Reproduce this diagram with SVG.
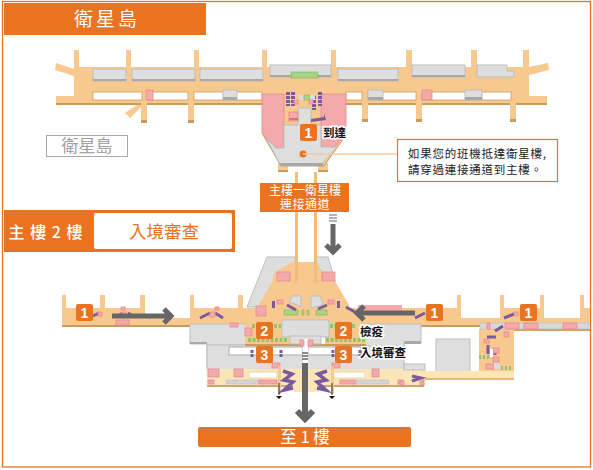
<svg xmlns="http://www.w3.org/2000/svg" width="593" height="470" viewBox="0 0 593 470">
<style>
text{font-family:"Noto Sans CJK TC","Liberation Sans",sans-serif}
.p{fill:#F8C98E}
.g{fill:#DEDEDE;stroke:#BDBDBD;stroke-width:1}
.gs{fill:#A8A8A8}
.w{fill:#fff;stroke:#C99A5E;stroke-width:.8}
.k{fill:#F4A9AB;stroke:#E58C8E;stroke-width:.8}
.c{fill:#FCE6B8}
.v{fill:none;stroke:#7A5A9A;stroke-width:3}
.vd{fill:none;stroke:#7A5A9A;stroke-width:4;stroke-dasharray:3 1}
.gr{fill:none;stroke:#8FC56E;stroke-width:4}
.grb{fill:#A6D586;stroke:#7FB060;stroke-width:.6}
.o{fill:#E97321}
.bt{fill:#fff;font:bold 14px "Liberation Sans",sans-serif;text-anchor:middle}
.lb{fill:#111;font-size:11.500px;font-weight:bold;stroke:#fff;stroke-width:3;paint-order:stroke}
.ar{fill:none;stroke:#666;stroke-width:5}
.sh{fill:#C99A5E}
</style>
<rect x="2.500" y="1.500" width="588" height="465.500" fill="#fff" stroke="#E97321" stroke-width="1.300"/>
<g id="title-satellite"><rect class="o" x="4" y="3" width="202" height="32"/><text x="107" y="25.500" fill="#fff" font-size="19" text-anchor="middle" letter-spacing="3">衛星島</text></g>
<g id="satellite-concourse">
<path class="p" d="M74 50h5v17h47V50h5v17h63V50h5v17h63V50h5v17h64V50h5v17h70V50h6v17h59V50h6v17h46V50h6v17l19-4 1 7-20 5v21h18v7H516v17h-6v-17h-88v17h-6v-17H368v17h-6v-17H194v17h-6v-17h-41v17h-6v-13l-11 11-5-5 15-10H56v-7h18V76l-19-6 1-7 18 6z"/>
<rect class="sh" x="56" y="103" width="85" height="2"/><rect class="sh" x="147" y="103" width="41" height="2"/><rect class="sh" x="194" y="103" width="68" height="2"/><rect class="sh" x="346" y="103" width="16" height="2"/><rect class="sh" x="368" y="103" width="48" height="2"/><rect class="sh" x="422" y="103" width="88" height="2"/><rect class="sh" x="516" y="103" width="31" height="2"/>
<rect class="sh" x="141" y="120" width="6" height="3"/><rect class="sh" x="188" y="120" width="6" height="3"/><rect class="sh" x="362" y="119" width="6" height="3"/><rect class="sh" x="416" y="119" width="6" height="3"/><rect class="sh" x="510" y="119" width="6" height="3"/>
<rect class="g" x="93" y="69" width="33" height="12"/><rect class="gs" x="93" y="79" width="33" height="2"/>
<rect class="g" x="132" y="69" width="63" height="12"/><rect class="gs" x="132" y="79" width="63" height="2"/>
<rect class="g" x="200" y="69" width="63" height="12"/><rect class="gs" x="200" y="79" width="63" height="2"/>
<rect class="g" x="270" y="65" width="61" height="12"/><rect class="gs" x="270" y="75" width="61" height="2"/>
<rect x="291" y="72" width="27" height="6" fill="#A6D586" stroke="#7FB060" stroke-width=".6"/>
<rect class="g" x="338" y="69" width="60" height="12"/><rect class="gs" x="338" y="79" width="60" height="2"/>
<rect class="g" x="412" y="65" width="53" height="12"/><rect class="gs" x="412" y="75" width="53" height="2"/>
<path class="g" d="M477 65h30v6h7v6h-37z"/>
<rect class="w" x="93" y="92" width="49" height="8"/><rect class="w" x="147" y="92" width="41" height="8"/><rect class="w" x="194" y="92" width="68" height="8"/>
<rect class="w" x="346" y="92" width="16" height="8"/><rect class="w" x="368" y="92" width="48" height="8"/><rect class="w" x="422" y="92" width="89" height="8"/>
<rect class="k" x="146" y="90" width="7" height="10"/>
<rect class="k" x="422" y="90" width="10" height="10"/>
<rect class="g" x="223" y="90" width="14" height="10"/><rect class="gs" x="223" y="97" width="14" height="3"/>
<rect class="g" x="368" y="90" width="15" height="10"/><rect class="gs" x="368" y="97" width="15" height="3"/>
<rect class="g" x="465" y="90" width="17" height="10"/><rect class="gs" x="465" y="97" width="17" height="3"/>
</g>
<g id="satellite-terminal">
<path class="p" d="M278 163h10v9h-10zM318 163h10v9h-10z"/>
<rect class="sh" x="278" y="170" width="10" height="2"/><rect class="sh" x="318" y="170" width="10" height="2"/>
<path fill="#F8C98E" stroke="#C99A5E" d="M262 133l19 33h43l22-31z"/>
<rect class="p" x="284" y="89" width="38" height="36"/>
<path class="k" d="M262 94h22v54h-8l-14-15z"/>
<path class="k" d="M321 94h25v39l-11 14h-14z"/>
<path fill="#DEDEDE" stroke="#BDBDBD" d="M298 108h13v17h10v22h16l-15 17h-42l-14-26 10 10h8v-23h14z"/>
<rect class="gs" x="280" y="163" width="43" height="3"/>
<rect class="k" x="289" y="112" width="9" height="9"/><rect x="289" y="118" width="9" height="2" fill="#D77"/>
<path class="vd" d="M288 92v14M293 92v14M320 92v14M314 96v14"/>
<path fill="#7A5A9A" d="M311 119l13-2 0-4 2 7-15 2z"/>
<rect x="299" y="95" width="5" height="5" fill="#DDD"/><rect x="304" y="95" width="6" height="5" class="grb"/><rect x="310" y="95" width="5" height="5" fill="#DDD"/>
<rect class="k" x="294" y="100" width="4" height="4"/><rect class="k" x="309" y="100" width="4" height="4"/>
<circle cx="303" cy="154" r="3.500" fill="#E97321"/>
</g>
<g id="main-building">
<path class="g" d="M267 257h28v6l-16 11-2 8-19 25h-11z"/>
<path class="g" d="M316 257h12l7 24-13-9-6-9z"/>
<path class="p" d="M295 262h21l6 10 13 9 14 24v3h108v-13h4v23h39v-23h4v13h36v-13h4v23h36v-23h4v13h6v18H62v-31h4v13h34v-13h5v13h35v-13h5v23h45v-23h4v13h44v-13h5v13h14l15-26 2-9 16-10z"/>
<rect class="sh" x="62" y="325" width="128" height="2"/><rect class="sh" x="421" y="325" width="59" height="2"/>
<path class="g" d="M190 324h60v21h-21v23h-22V344h-17z"/>
<rect class="gs" x="190" y="342" width="17" height="2"/>
<path class="g" d="M207 345h197v25H207z"/>
<path class="g" d="M340 324h81v19h-17v3h-64z"/>
<rect class="gs" x="404" y="341" width="17" height="3"/>
<rect class="p" x="245" y="322" width="45" height="23"/><rect class="p" x="325" y="322" width="41" height="23"/>
<rect class="sh" x="245" y="344" width="58" height="2"/><rect class="sh" x="308" y="344" width="58" height="2"/>
<rect class="g" x="282" y="320" width="47" height="17"/><rect class="g" x="290" y="336" width="31" height="8"/>
<rect x="229" y="347" width="74" height="8" fill="#fff" stroke="#AAA"/><rect x="308" y="347" width="53" height="8" fill="#fff" stroke="#AAA"/>
<rect x="303" y="339" width="5" height="25" fill="#fff"/>
<rect class="k" x="300" y="340" width="4" height="6"/><rect class="k" x="308" y="340" width="5" height="6"/>
<rect x="479" y="329" width="35" height="43" class="p"/>
<rect class="g" x="436" y="339" width="34" height="34"/><rect class="gs" x="436" y="371" width="34" height="3"/>
<rect class="c" x="207" y="369" width="218" height="17"/><rect x="207" y="385" width="217" height="2" fill="#C9A870"/>
<rect x="425" y="371" width="89" height="7" class="c"/><rect x="425" y="378" width="89" height="2" fill="#E8B77A"/>
<rect x="404" y="364" width="21" height="6" class="g"/>
<rect class="k" x="208" y="369" width="11" height="8"/><rect class="k" x="234" y="369" width="9" height="8"/><rect class="k" x="372" y="369" width="7" height="8"/>
<rect x="249" y="372" width="28" height="6" fill="#fff" stroke="#E8D5A8"/><rect x="333" y="372" width="32" height="6" fill="#fff" stroke="#E8D5A8"/>
<rect x="226" y="380" width="33" height="4" fill="#D4D4D4" stroke="#BBB" stroke-width=".5"/><rect class="k" x="259" y="380" width="18" height="4"/>
<rect class="k" x="340" y="380" width="16" height="4"/><rect x="356" y="380" width="33" height="4" fill="#D4D4D4" stroke="#BBB" stroke-width=".5"/>
<rect class="k" x="208" y="380" width="6" height="4"/><rect class="k" x="398" y="380" width="5" height="4"/>
<rect class="k" x="272" y="363" width="8" height="5"/><rect class="k" x="332" y="363" width="8" height="5"/>
<rect class="p" x="278" y="366" width="3" height="28"/><rect class="p" x="331" y="366" width="3" height="28"/>
<rect class="c" x="293" y="369" width="26" height="23"/>
<path class="v" style="stroke-width:3.500" d="M283 371l9 3-8 6 9 2-9 8 9-2M327 371l-9 3 8 6-9 2 9 8-9-2"/>
<rect class="k" x="277" y="272" width="13" height="9"/>
<rect class="k" x="322" y="272" width="13" height="9"/>
<rect class="k" x="256" y="306" width="10" height="10"/>
<path class="g" d="M292 296h9v11l-8-4-4 0z"/><path class="g" d="M311 296h9l3 8-4 2-8 2z"/>
<rect class="grb" x="284" y="310" width="14" height="5"/><rect class="grb" x="316" y="310" width="11" height="5"/><rect class="grb" x="302" y="310" width="2" height="5"/><rect class="grb" x="307" y="310" width="2" height="5"/>
<path class="v" d="M273.500 301v7M338.500 301v7M287 305l9 5M327 305l-9 4M346 307l9 5"/>
<rect class="k" x="277" y="300" width="6" height="4"/><rect class="k" x="328" y="300" width="6" height="4"/>
<path class="v" d="M200 318l10-5M223 318l-8-5M93 316l6-3M116 317l7-4M135 317l-7-4M415 318l10-5M504 318l10-4"/>
<rect class="k" x="210" y="312" width="5" height="5"/><rect class="k" x="215" y="307" width="4" height="3"/>
<rect class="k" x="98" y="312" width="4" height="4"/><rect class="k" x="121" y="307" width="4" height="3"/><rect class="k" x="116" y="320" width="13" height="5"/><rect class="k" x="122" y="312" width="4" height="4"/><rect class="k" x="514" y="312" width="4" height="4"/>
<rect class="k" x="230" y="323" width="8" height="4"/><rect class="k" x="245" y="328" width="7" height="8"/>
<rect x="358" y="305" width="44" height="7" fill="#F4A9AB"/>
<path class="gr" stroke-dasharray="3 1.500" d="M248 340h39M326 340h40M252 326h3M274 326h7M330 326h5M352 326h4"/>
<path class="v" stroke-dasharray="3 1" d="M252 350v8M281 350v8M333 350v8M360 350v8"/>
<rect x="480" y="323" width="109" height="6" fill="#D8D8D8" stroke="#BBB" stroke-width=".5"/>
<rect class="k" x="487" y="323" width="3" height="6"/><rect class="k" x="505" y="323" width="14" height="6"/><rect class="k" x="524" y="323" width="14" height="6"/><rect class="k" x="563" y="323" width="14" height="6"/>
<rect x="514" y="329" width="76" height="2" fill="#D9A066"/>
<path class="v" d="M495 331l8-5M487 337h9M488 345v9M495 351v4"/>
<rect class="k" x="504" y="332" width="5" height="5"/><rect class="k" x="484" y="339" width="5" height="4"/><rect class="k" x="493" y="348" width="6" height="5"/><rect class="k" x="493" y="357" width="6" height="5"/><rect class="k" x="486" y="364" width="8" height="5"/>
<rect x="494" y="363" width="6" height="6" fill="#DDD"/><rect x="490" y="349" width="3" height="8" fill="#fff"/>
<path class="gr" stroke-dasharray="2 2" d="M479 357h10M501 368h11"/>
<path class="v" d="M412 376l9 2-9 3"/>
<rect class="k" x="420" y="380" width="4" height="5"/><rect class="k" x="400" y="381" width="4" height="4"/>
</g>
<g id="connectors">
<path d="M296.500 172v111M315.500 172v111" stroke="#F2BC7C" stroke-width="3" fill="none"/>
<path d="M303 154h94" stroke="#F9C9A0" stroke-width="1.500"/>
<path class="ar" d="M112 316h58M164 309l7 7-7 7"/>
<path class="ar" d="M415 313h-57M364 306l-7 7 7 7"/>
<path class="ar" d="M333 224v28M326 245l7 7 7-7"/>
<path d="M329 215h8M329 218h8M329 221h8" stroke="#666" stroke-width="1.200"/>
<path d="M305 363v56M297 411l8 8 8-8" stroke="#666" stroke-width="6" fill="none"/>
<path d="M302 353h6M302 356h6M302 359h6" stroke="#666" stroke-width="1.500"/>
<path d="M279 383v12M332 383v12" stroke="#333" stroke-width="1"/>
<path d="M276 396h6l-3 3zM329 396h6l-3 3z" fill="#111"/>
</g>
<g id="callout"><rect x="397.500" y="139.500" width="160" height="42" fill="#fff" stroke="#E97321" stroke-width="1.200"/>
<text x="408" y="158" font-size="11.500" letter-spacing=".75" fill="#222">如果您的班機抵達衛星樓,</text>
<text x="408" y="174" font-size="11.500" letter-spacing=".75" fill="#222">請穿過連接通道到主樓。</text></g>
<g id="label-satellite"><rect x="46.500" y="135.500" width="81" height="21" fill="#fff" stroke="#A8A8A8" stroke-width="1"/><text x="87" y="152" font-size="17" fill="#A0A0A0" text-anchor="middle">衛星島</text></g>
<g id="node-connector-label"><rect class="o" x="260" y="183" width="89" height="29"/><text font-size="12" fill="#fff" text-anchor="middle"><tspan x="305" y="194.500">主樓一衛星樓</tspan><tspan x="305" y="208.500" letter-spacing=".5">連接通道</tspan></text></g>
<g id="title-main"><rect class="o" x="4" y="210" width="231" height="42"/><rect x="94" y="213" width="138" height="36" rx="2" fill="#fff"/><text x="46" y="238" font-size="16" fill="#fff" text-anchor="middle" font-weight="500" letter-spacing="1">主 樓 2 樓</text><text x="164" y="238" font-size="17.500" fill="#E97321" text-anchor="middle">入境審查</text></g>
<g id="bar-floor1"><rect class="o" x="198" y="427" width="213" height="20" rx="2"/><text x="305" y="443" font-size="16.500" fill="#fff" text-anchor="middle">至 1 樓</text></g>
<g id="badges">
<g id="b1a"><rect class="o" x="76" y="304" width="17" height="17" rx="2"/><text class="bt" x="84.500" y="317.500">1</text></g>
<g id="b1b"><rect class="o" x="426" y="304" width="17" height="17" rx="2"/><text class="bt" x="434.500" y="317.500">1</text></g>
<g id="b1c"><rect class="o" x="520" y="304" width="17" height="17" rx="2"/><text class="bt" x="528.500" y="317.500">1</text></g>
<g id="b1d"><rect class="o" x="300" y="124" width="17" height="17" rx="2"/><text class="bt" x="308.500" y="137.500">1</text></g>
<g id="b2a"><rect class="o" x="256" y="322" width="17" height="17" rx="2"/><text class="bt" x="264.500" y="335.500">2</text></g>
<g id="b2b"><rect class="o" x="335" y="322" width="17" height="17" rx="2"/><text class="bt" x="343.500" y="335.500">2</text></g>
<g id="b3a"><rect class="o" x="256" y="346" width="17" height="17" rx="2"/><text class="bt" x="264.500" y="359.500">3</text></g>
<g id="b3b"><rect class="o" x="335" y="346" width="17" height="17" rx="2"/><text class="bt" x="343.500" y="359.500">3</text></g>
<text class="lb" x="323" y="137">到達</text>
<text class="lb" x="360" y="336">檢疫</text>
<text class="lb" x="360" y="357">入境審查</text>
</g>
</svg>
